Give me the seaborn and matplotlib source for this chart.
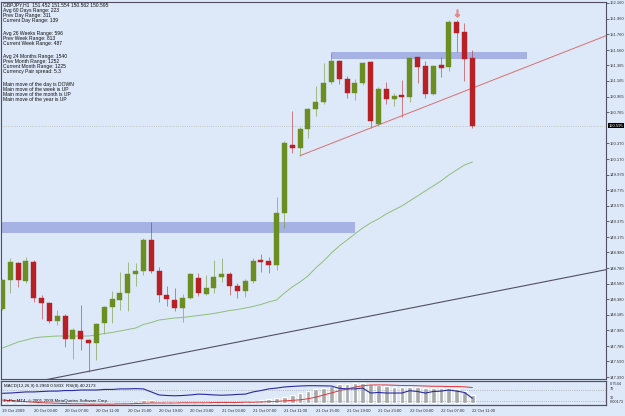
import matplotlib
matplotlib.use('Agg')
import matplotlib.pyplot as plt
import matplotlib.transforms as mtransforms
import seaborn as sns

# 61 hourly bars, GBPJPY H1, 19 Oct 23:00 -> 22 Oct 11:00
opens = [148.258, 148.628, 148.841, 148.619, 148.861, 148.395, 148.331, 148.109, 148.169, 147.872,
         147.978, 147.863, 147.821, 148.076, 148.288, 148.373, 148.458, 148.701, 148.747, 149.138,
         148.747, 148.433, 148.373, 148.275, 148.402, 148.650, 148.450, 148.522, 148.662, 148.705,
         148.552, 148.488, 148.619, 148.883, 148.870, 148.819, 149.478, 150.349, 150.315, 150.549,
         150.804, 150.901, 151.149, 151.420, 151.187, 151.008, 151.136, 151.404, 150.613, 151.060,
         150.932, 150.987, 150.965, 151.467, 151.360, 150.996, 151.369, 151.348, 151.914, 151.786, 151.452]
highs = [148.640, 148.905, 148.861, 148.925, 148.883, 148.437, 148.348, 148.246, 148.195, 148.016,
         148.309, 147.876, 148.080, 148.296, 148.492, 148.734, 148.861, 148.841, 149.164, 149.371,
         148.790, 148.552, 148.522, 148.450, 148.713, 148.713, 148.692, 148.883, 148.905, 148.734,
         148.586, 148.641, 148.912, 148.956, 148.915, 149.690, 150.400, 150.783, 150.579, 150.817,
         151.102, 151.391, 151.526, 151.433, 151.229, 151.187, 151.408, 151.420, 151.093, 151.156,
         151.008, 151.178, 151.467, 151.475, 151.420, 151.369, 151.467, 151.943, 151.943, 151.909, 151.554]
lows = [148.250, 148.458, 148.543, 148.594, 148.351, 148.127, 148.084, 148.054, 147.778, 147.617,
        147.736, 147.459, 147.608, 147.940, 148.084, 148.246, 148.233, 148.552, 148.692, 148.713,
        148.351, 148.297, 148.237, 148.096, 148.386, 148.424, 148.437, 148.466, 148.606, 148.437,
        148.395, 148.415, 148.594, 148.734, 148.717, 148.756, 149.287, 150.241, 150.209, 150.435,
        150.719, 150.872, 151.127, 151.127, 150.945, 150.923, 151.114, 150.562, 150.592, 150.872,
        150.847, 150.702, 150.901, 151.144, 150.952, 150.987, 151.220, 151.297, 151.539, 151.169, 150.562]
closes = [148.628, 148.854, 148.628, 148.870, 148.395, 148.331, 148.105, 148.169, 147.872, 147.991,
          147.872, 147.829, 148.063, 148.280, 148.382, 148.458, 148.705, 148.747, 149.138, 148.743,
          148.437, 148.382, 148.275, 148.395, 148.701, 148.458, 148.522, 148.662, 148.705, 148.552,
          148.492, 148.619, 148.874, 148.861, 148.819, 149.478, 150.379, 150.315, 150.553, 150.808,
          150.901, 151.144, 151.420, 151.187, 151.008, 151.136, 151.399, 150.659, 151.060, 150.936,
          150.974, 150.965, 151.455, 151.348, 150.996, 151.360, 151.335, 151.921, 151.773, 151.442, 150.595]
ma_values = [147.761, 147.799, 147.838, 147.863, 147.889, 147.901, 147.908, 147.914, 147.914, 147.914,
             147.914, 147.914, 147.927, 147.946, 147.959, 147.978, 147.997, 148.016, 148.061, 148.086,
             148.118, 148.131, 148.144, 148.150, 148.163, 148.175, 148.188, 148.201, 148.220, 148.239,
             148.252, 148.271, 148.290, 148.316, 148.348, 148.373, 148.462, 148.539, 148.603, 148.679,
             148.781, 148.870, 148.972, 149.062, 149.138, 149.215, 149.291, 149.355, 149.406, 149.470,
             149.521, 149.572, 149.636, 149.699, 149.763, 149.827, 149.890, 149.967, 150.031, 150.094, 150.133]

macd_main = [0.01, 0.01, 0.01, 0.01, 0.01, 0.01, 0.01, 0.01, 0.01, 0.01,
             0.01, 0.01, 0.01, 0.01, 0.01, 0.01, 0.01, 0.075, 0.11, 0.11,
             0.075, 0.04, 0.03, 0.02, 0.02, 0.02, 0.02, 0.03, 0.03, 0.03,
             0.02, 0.02, 0.075, 0.11, 0.15, 0.19, 0.245, 0.30, 0.38, 0.45,
             0.51, 0.58, 0.64, 0.70, 0.72, 0.74, 0.7544, 0.72, 0.68, 0.64,
             0.62, 0.60, 0.62, 0.60, 0.57, 0.57, 0.55, 0.57, 0.53, 0.47, 0.296]
macd_signal = [0.11, 0.09, 0.07, 0.05, 0.03, 0.01, 0.0, -0.01, -0.02, -0.03,
               -0.03, -0.04, -0.04, -0.04, -0.04, -0.03, -0.03, -0.02, -0.01, 0.0,
               0.0, 0.0, 0.0, 0.01, 0.01, 0.01, 0.01, 0.02, 0.02, 0.02,
               0.02, 0.03, 0.03, 0.04, 0.05, 0.06, 0.08, 0.10, 0.12, 0.16,
               0.22, 0.30, 0.38, 0.46, 0.53, 0.60, 0.65, 0.68, 0.68, 0.68,
               0.67, 0.66, 0.66, 0.65, 0.64, 0.63, 0.63, 0.62, 0.62, 0.61, 0.5833]
rsi_values = [58, 59, 61, 63, 63, 64.5, 66, 66, 68, 68,
              70, 70, 70, 72, 72, 74, 74, 75, 74, 63,
              52, 50, 49, 50, 52, 55, 54, 52, 51, 52,
              54, 55, 63, 68, 74, 77, 81, 83, 84.5, 85.6,
              85.6, 85, 84.5, 76, 74, 74, 77, 59, 61, 59,
              59, 59, 67.5, 64.5, 59, 64.5, 66, 70, 66, 61, 40.2173]

time_labels = ['19 Oct 2009', '20 Oct 03:00', '20 Oct 07:00', '20 Oct 11:00', '20 Oct 15:00',
               '20 Oct 19:00', '20 Oct 23:00', '21 Oct 03:00', '21 Oct 07:00', '21 Oct 11:00',
               '21 Oct 15:00', '21 Oct 19:00', '21 Oct 23:00', '22 Oct 03:00', '22 Oct 07:00',
               '22 Oct 11:00']
price_ticks = [152.160, 151.960, 151.760, 151.560, 151.365, 151.165, 150.965, 150.765, 150.370,
               150.170, 149.970, 149.775, 149.575, 149.375, 149.175, 148.980, 148.780, 148.580,
               148.380, 148.185, 147.985, 147.785, 147.590, 147.390]
last_price = 150.595

upper_zone_prices = [151.446, 151.531]
upper_zone_bars = [41.9, 67.0]
lower_zone_prices = [149.224, 149.368]
lower_zone_bars = [-0.5, 45.0]
support_bars = [5.2, 77.1]
support_prices = [147.35, 148.76]
rising_bars = [38.0, 77.1]
rising_prices = [150.213, 151.743]
fractal_bar = 58
fractal_price = 152.036

info_blocks = [
    ['GBPJPY,H1  151.452 151.554 150.562 150.595', 'Avg 60 Days Range: 223',
     'Prev Day Range: 311', 'Current Day Range: 139'],
    ['Avg 26 Weeks Range: 596', 'Prev Week Range: 813', 'Current Week Range: 487'],
    ['Avg 24 Months Range: 1540', 'Prev Month Range: 1252', 'Current Month Range: 1225',
     'Currency Pair spread: 5.3'],
    ['Main move of the day is DOWN', 'Main move of the week is UP',
     'Main move of the month is UP', 'Main move of the year is UP'],
]

BG = '#dde8f8'
GREEN = '#6b8e23'
RED = '#b82025'
W, H = 625, 416

sns.set_style('white', {'axes.facecolor': BG, 'figure.facecolor': BG})
plt.rcParams['font.family'] = ['Liberation Sans', 'DejaVu Sans']

fig = plt.figure(figsize=(W / 100, H / 100), dpi=100)
ax = fig.add_axes([1 / W, 37 / H, 605 / W, 377 / H])
ax_sub = fig.add_axes([1 / W, 11 / H, 605 / W, 24 / H])

bars = list(range(len(opens)))

# zones
ax.fill_between(upper_zone_bars, upper_zone_prices[0], upper_zone_prices[1],
                color='#9da9e0', alpha=0.85, lw=0, zorder=1)
ax.fill_between(lower_zone_bars, lower_zone_prices[0], lower_zone_prices[1],
                color='#9da9e0', alpha=0.85, lw=0, zorder=1)

# candles
for i in bars:
    o, h, l, c = opens[i], highs[i], lows[i], closes[i]
    col = GREEN if c >= o else RED
    ax.vlines(i, l, h, color=col, lw=0.7, alpha=0.55, zorder=2)
    ax.bar(i, max(abs(c - o), 0.02), bottom=min(o, c), width=0.64,
           color=col, edgecolor=col, lw=0.3, zorder=3)

sns.lineplot(x=bars, y=ma_values, ax=ax, color='#8fbf78', lw=0.7, zorder=2)
sns.lineplot(x=support_bars, y=support_prices, ax=ax, color='#505060', lw=0.8, zorder=2)
sns.lineplot(x=rising_bars, y=rising_prices, ax=ax, color='#d87070', lw=0.7, zorder=2)
ax.axhline(last_price, color='#b4bcb4', lw=0.6, ls=':', zorder=1)
ax.plot(fractal_bar, fractal_price, marker=r'$\downarrow$', color='#e08a8a', ms=5, zorder=4)

ax.set_xlim(-0.19, 77.07)
ax.set_ylim(147.366, 152.172)
ax.set_xticks([])
ax.yaxis.tick_right()
ax.set_yticks(price_ticks)
ax.set_yticklabels([f'{v:.3f}' for v in price_ticks])
ax.tick_params(axis='y', length=2, width=0.5, pad=1, labelsize=3.0, colors='#303030')
for sp in ax.spines.values():
    sp.set_color('#505060')
    sp.set_linewidth(0.8)
ax.set_xlabel('')
ax.set_ylabel('')

trans = mtransforms.blended_transform_factory(ax.transAxes, ax.transData)
ax.text(1.004, last_price, f'{last_price:.3f}', transform=trans, fontsize=3.0, color='white',
        va='center', ha='left', bbox=dict(facecolor='black', edgecolor='none', pad=0.5))

# info text
y = 5.0
for block in info_blocks:
    for line in block:
        fig.text(3 / W, 1 - y / H, line, fontsize=3.6, va='center', ha='left', color='#101010')
        y += 5.17
    y += 7.5

# sub window: MACD histogram + signal, RSI
ax_sub.bar(bars, macd_main, width=0.6, color='#a9a9a9', zorder=2)
sns.lineplot(x=bars, y=macd_signal, ax=ax_sub, color='#e03535', lw=0.7, zorder=3)
ax_sub.set_ylim(-0.075, 0.829)
ax_rsi = ax_sub.twinx()
sns.lineplot(x=bars, y=rsi_values, ax=ax_rsi, color='#2a2aa0', lw=0.8, zorder=3)
ax_rsi.axhline(70, color='#9a9a9a', lw=0.5, ls=':')
ax_rsi.axhline(30, color='#9a9a9a', lw=0.5, ls=':')
ax_rsi.set_ylim(15.5, 102.7)
ax_rsi.set_yticks([])
ax_rsi.set_ylabel('')
for a in (ax_sub, ax_rsi):
    a.set_xlim(-0.19, 77.07)
    for sp in a.spines.values():
        sp.set_color('#505060')
        sp.set_linewidth(0.8)
ax_sub.set_yticks([])
ax_sub.set_ylabel('')
ax_sub.set_xticks(bars[::4])
ax_sub.set_xticklabels(time_labels, ha='left')
ax_sub.tick_params(axis='x', length=2, width=0.5, pad=1, labelsize=3.0, colors='#303030')

ax_sub.text(0.005, 0.78, 'MACD(12,26,9) 0.2960 0.5833  RSI(8) 40.2173', transform=ax_sub.transAxes,
            fontsize=3.2, va='center', ha='left', color='#101010', zorder=5)
ax_sub.text(0.005, 0.16, 'FxPro MT4, © 2001-2009 MetaQuotes Software Corp.', transform=ax_sub.transAxes,
            fontsize=3.2, va='center', ha='left', color='#101010', zorder=5)
sub_trans = mtransforms.blended_transform_factory(ax_sub.transAxes, ax_sub.transAxes)
ax_sub.text(1.006, 0.86, '0.7544', transform=sub_trans, fontsize=2.8, va='center', ha='left', color='#303030')
ax_sub.text(1.006, 0.66, '70', transform=sub_trans, fontsize=2.8, va='center', ha='left', color='#303030')
ax_sub.text(1.006, 0.28, '30', transform=sub_trans, fontsize=2.8, va='center', ha='left', color='#303030')
ax_sub.text(1.006, 0.12, '0.00173', transform=sub_trans, fontsize=2.8, va='center', ha='left', color='#303030')

fig.savefig('out.png', dpi=100, facecolor=BG)
